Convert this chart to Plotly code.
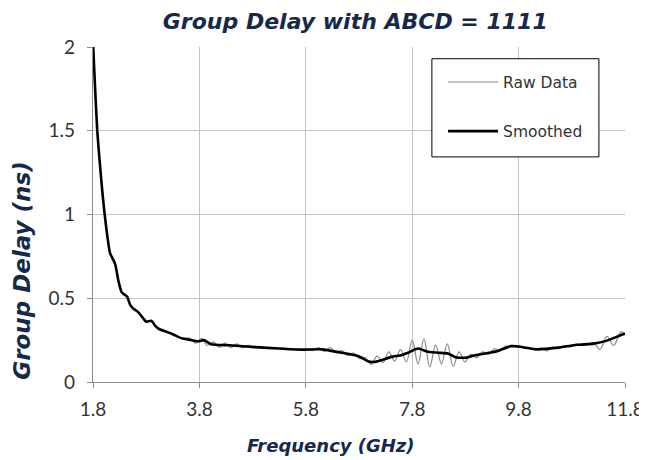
import plotly.graph_objects as go

# ---- data ----
smooth_freq = [1.80, 1.84, 1.88, 1.93, 1.98, 2.02, 2.07, 2.12, 2.18, 2.22, 2.28, 2.34, 2.40, 2.44,
               2.50, 2.55, 2.64, 2.72, 2.80, 2.90, 2.97, 3.05, 3.18, 3.30, 3.46, 3.61, 3.78, 3.89,
               4.02, 4.36, 4.86, 5.30, 5.73, 6.10, 6.47, 6.73, 6.85, 6.98, 7.10, 7.22, 7.41, 7.60,
               7.72, 7.91, 8.10, 8.29, 8.47, 8.60, 8.79, 8.98, 9.17, 9.41, 9.66, 9.79, 10.16, 10.53,
               10.90, 11.21, 11.46, 11.74, 11.80]
smooth_gd = [2.03, 1.75, 1.50, 1.30, 1.12, 1.00, 0.87, 0.77, 0.73, 0.70, 0.60, 0.535, 0.52, 0.51,
             0.46, 0.44, 0.42, 0.39, 0.36, 0.365, 0.335, 0.315, 0.30, 0.285, 0.262, 0.252, 0.243, 0.25,
             0.225, 0.219, 0.208, 0.200, 0.193, 0.195, 0.175, 0.159, 0.145, 0.122, 0.120, 0.13, 0.15, 0.16,
             0.175, 0.20, 0.18, 0.175, 0.17, 0.15, 0.145, 0.16, 0.17, 0.185, 0.215, 0.212, 0.195, 0.205,
             0.222, 0.229, 0.247, 0.282, 0.288]

raw_freq = [1.80, 1.84, 1.88, 1.93, 1.98, 2.02, 2.07, 2.12, 2.18, 2.22, 2.28, 2.34, 2.40, 2.44,
            2.50, 2.55, 2.64, 2.72, 2.80, 2.90, 2.97, 3.05, 3.18, 3.30, 3.46,
            3.62, 3.73, 3.84, 3.95, 4.06, 4.17, 4.28, 4.39, 4.50, 4.61, 4.72, 4.83, 4.94, 5.05,
            5.16, 5.27, 5.38, 5.49, 5.60, 5.71, 5.82, 5.93, 6.04, 6.15, 6.26, 6.37, 6.48, 6.59,
            6.70, 6.81, 6.92, 7.03, 7.14, 7.25, 7.36, 7.47, 7.58, 7.69, 7.80, 7.91, 8.02, 8.13,
            8.24, 8.35, 8.46, 8.57, 8.68, 8.79, 8.90, 9.01, 9.12, 9.23, 9.34, 9.45, 9.56, 9.67,
            9.78, 9.89, 10.00, 10.11, 10.22, 10.33, 10.44, 10.55, 10.66, 10.77, 10.88, 10.99,
            11.10, 11.21, 11.33, 11.46, 11.59, 11.72, 11.80]
raw_gd = [2.03, 1.75, 1.50, 1.30, 1.12, 1.00, 0.87, 0.77, 0.73, 0.70, 0.60, 0.535, 0.52, 0.51,
          0.46, 0.44, 0.42, 0.39, 0.36, 0.365, 0.335, 0.315, 0.30, 0.285, 0.262,
          0.262, 0.232, 0.26, 0.218, 0.24, 0.206, 0.234, 0.205, 0.228, 0.204, 0.219, 0.203, 0.211, 0.201,
          0.206, 0.198, 0.202, 0.195, 0.197, 0.192, 0.196, 0.188, 0.205, 0.183, 0.205, 0.175, 0.187, 0.158,
          0.172, 0.14, 0.145, 0.105, 0.155, 0.115, 0.18, 0.125, 0.195, 0.12, 0.25, 0.108, 0.258, 0.09,
          0.22, 0.108, 0.228, 0.093, 0.18, 0.12, 0.165, 0.145, 0.18, 0.165, 0.198, 0.19, 0.215, 0.208,
          0.217, 0.205, 0.206, 0.192, 0.202, 0.186, 0.208, 0.198, 0.216, 0.21, 0.226, 0.219,
          0.222, 0.236, 0.195, 0.272, 0.218, 0.298, 0.29]

x_ticks = [1.8, 3.8, 5.8, 7.8, 9.8, 11.8]
y_ticks = [0, 0.5, 1, 1.5, 2]
y_tick_text = ["0", "0.5", "1", "1.5", "2"]

assert len(raw_freq) == len(raw_gd)
assert len(smooth_freq) == len(smooth_gd)

TICK_FONT = "Lato"
TITLE_FONT = "DejaVu Sans"
NAVY = "#17294a"
TXT = "#333333"

# page body has an 8px margin: figure is 639x452 so it fits the 647x460 window
W, H = 639, 452
ML, MR, MT, MB = 84.5, 22, 39.3, 78.3
PW = W - ML - MR
PH = H - MT - MB

fig = go.Figure()
fig.add_trace(go.Scatter(x=raw_freq, y=raw_gd, mode="lines", name="Raw Data",
                         legendgroup="a",
                         line=dict(color="#8a8a8a", width=1.2, shape="spline", smoothing=1.0)))
fig.add_trace(go.Scatter(x=smooth_freq, y=smooth_gd, mode="lines", name="Smoothed",
                         legendgroup="b",
                         line=dict(color="#000000", width=2.6, shape="spline", smoothing=0.6)))

fig.update_layout(
    width=W, height=H,
    margin=dict(l=ML, r=MR, t=MT, b=MB, pad=0, autoexpand=False),
    paper_bgcolor="white", plot_bgcolor="white",
    font=dict(family=TICK_FONT, color=TXT, size=19),
    title=dict(text="<b><i>Group Delay with ABCD = 1111</i></b>",
               font=dict(family=TITLE_FONT, size=22, color=NAVY),
               x=(347 - ML) / PW, xref="paper", xanchor="center",
               y=1 - 12.8 / H, yref="container", yanchor="middle"),
    showlegend=True,
    legend=dict(x=0.658, y=0.945, xanchor="left", yanchor="top",
                bgcolor="rgba(0,0,0,0)", borderwidth=0, itemwidth=50,
                font=dict(family=TITLE_FONT, size=15.5, color=TXT),
                traceorder="grouped", tracegroupgap=26),
    shapes=[dict(type="rect", xref="paper", yref="paper",
                 x0=0.637, x1=0.951, y0=0.672, y1=0.965,
                 line=dict(color="black", width=1), fillcolor="white", layer="above")],
    annotations=[
        dict(text="<b><i>Frequency (GHz)</i></b>", xref="paper", yref="paper",
             x=(323 - ML) / PW, y=-(437 - (H - MB)) / PH, xanchor="center", yanchor="middle",
             showarrow=False, font=dict(family=TITLE_FONT, size=18, color=NAVY)),
        dict(text="<b><i>Group Delay (ns)</i></b>", xref="paper", yref="paper",
             x=(14 - ML) / PW, y=((H - MB) - 263) / PH, xanchor="center", yanchor="middle",
             textangle=-90, showarrow=False,
             font=dict(family=TITLE_FONT, size=23, color=NAVY)),
    ],
)

fig.update_xaxes(range=[1.8, 11.8], tickvals=x_ticks, ticktext=[str(v) for v in x_ticks],
                 automargin=False,
                 showgrid=True, gridcolor="#c4c4c4", gridwidth=1,
                 showline=True, linecolor="#8c8c8c", linewidth=1.3,
                 ticks="outside", ticklen=5, tickcolor="#8c8c8c",
                 ticklabelstandoff=5,
                 tickfont=dict(family=TICK_FONT, size=19, color=TXT),
                 zeroline=False)
fig.update_yaxes(range=[0, 2], tickvals=y_ticks, ticktext=y_tick_text,
                 automargin=False,
                 showgrid=True, gridcolor="#c4c4c4", gridwidth=1,
                 showline=True, linecolor="#8c8c8c", linewidth=1.3,
                 ticks="outside", ticklen=5, tickcolor="#8c8c8c",
                 ticklabelstandoff=8,
                 tickfont=dict(family=TICK_FONT, size=19, color=TXT),
                 zeroline=False)

fig.write_html("out.html")
